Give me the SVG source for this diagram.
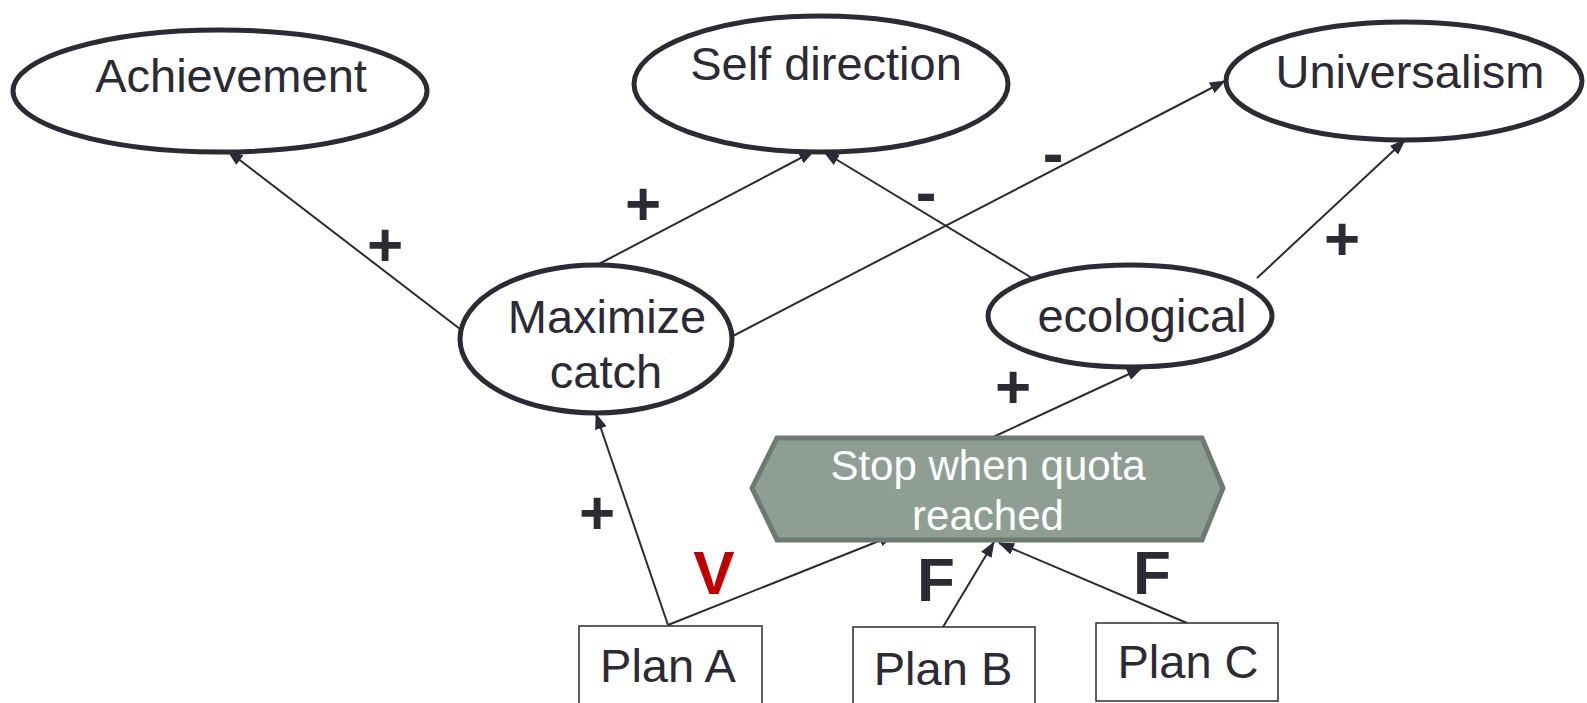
<svg xmlns="http://www.w3.org/2000/svg" width="1587" height="703" viewBox="0 0 1587 703">
  <style>
    .node ellipse { fill: #ffffff; stroke: #2b2a35; stroke-width: 5; }
    .box rect { fill: #ffffff; stroke: #2b2a35; stroke-width: 1.5; }
    .lbl { font-family: "Liberation Sans", Arial, sans-serif; font-size: 47px; fill: #2b2a35; text-anchor: middle; }
    .hex polygon { fill: #8e9e93; stroke: #6e7a70; stroke-width: 5; stroke-linejoin: miter; }
    .hex text { font-family: "Liberation Sans", Arial, sans-serif; font-size: 42px; fill: #ffffff; text-anchor: middle; }
    .sign { font-family: "Liberation Sans", Arial, sans-serif; font-size: 62px; font-weight: bold; fill: #2b2a35; text-anchor: middle; }
    .red { fill: #c00000; }
    #connectors line { stroke: #2b2a35; stroke-width: 2; marker-end: url(#arrow); }
  </style>
  <defs>
    <marker id="arrow" markerUnits="userSpaceOnUse" markerWidth="16" markerHeight="12" refX="15" refY="6" orient="auto">
      <path d="M0,0 L16,6 L0,12 Z" fill="#2b2a35"/>
    </marker>
  </defs>
  <rect width="1587" height="703" fill="#ffffff"/>

  <g id="connectors">
    <line x1="460" y1="329" x2="228" y2="151"/>
    <line x1="597" y1="265" x2="814" y2="151"/>
    <line x1="1032" y1="278" x2="824" y2="152"/>
    <line x1="731" y1="337" x2="1225" y2="81"/>
    <line x1="1257" y1="278" x2="1405" y2="140"/>
    <line x1="991" y1="438" x2="1142" y2="368"/>
    <line x1="668" y1="625" x2="596" y2="414"/>
    <line x1="668" y1="625" x2="894" y2="535"/>
    <line x1="943" y1="627" x2="994" y2="542"/>
    <line x1="1187" y1="623" x2="999" y2="543"/>
  </g>

  <g id="achievement" class="node">
    <ellipse cx="220" cy="91" rx="207" ry="61"/>
    <text class="lbl" x="231" y="92">Achievement</text>
  </g>
  <g id="self-direction" class="node">
    <ellipse cx="821" cy="84" rx="187" ry="68"/>
    <text class="lbl" x="826" y="80">Self direction</text>
  </g>
  <g id="universalism" class="node">
    <ellipse cx="1404" cy="81" rx="178" ry="59"/>
    <text class="lbl" x="1410" y="88">Universalism</text>
  </g>
  <g id="maximize-catch" class="node">
    <ellipse cx="596" cy="339" rx="136" ry="74"/>
    <text class="lbl" x="607" y="333">Maximize</text>
    <text class="lbl" x="606" y="388">catch</text>
  </g>
  <g id="ecological" class="node">
    <ellipse cx="1130" cy="316" rx="142" ry="51"/>
    <text class="lbl" x="1142" y="332">ecological</text>
  </g>
  <g id="stop-quota" class="hex">
    <polygon points="752,488 777,438 1202,438 1223,488 1202,540 777,540"/>
    <text x="988" y="480">Stop when quota</text>
    <text x="988" y="530">reached</text>
  </g>
  <g id="plan-a" class="box">
    <rect x="579" y="626" width="183" height="80"/>
    <text class="lbl" x="668" y="682">Plan A</text>
  </g>
  <g id="plan-b" class="box">
    <rect x="853" y="627" width="182" height="80"/>
    <text class="lbl" x="943" y="685">Plan B</text>
  </g>
  <g id="plan-c" class="box">
    <rect x="1096" y="623" width="182" height="78"/>
    <text class="lbl" x="1188" y="678">Plan C</text>
  </g>

  <g id="labels">
    <text class="sign" x="385" y="266">+</text>
    <text class="sign" x="643" y="225">+</text>
    <text class="sign" x="926" y="213">-</text>
    <text class="sign" x="1053" y="174">-</text>
    <text class="sign" x="1342" y="260">+</text>
    <text class="sign" x="1013" y="408">+</text>
    <text class="sign" x="597" y="534">+</text>
    <text class="sign red" x="714" y="594">V</text>
    <text class="sign" x="936" y="601">F</text>
    <text class="sign" x="1152" y="594">F</text>
  </g>
</svg>
